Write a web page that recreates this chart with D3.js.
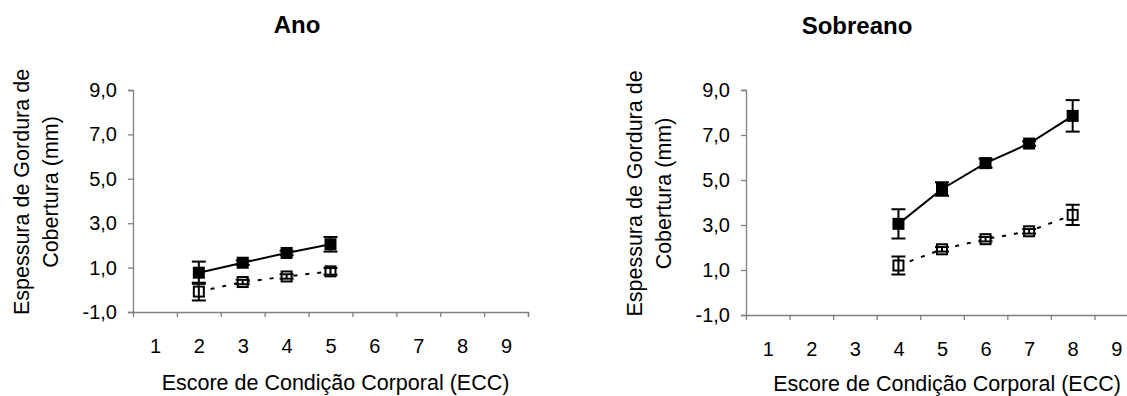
<!DOCTYPE html>
<html>
<head>
<meta charset="utf-8">
<script src="https://cdn.jsdelivr.net/npm/d3@7"></script>
<style>
  body { margin: 0; background: #fff; }
  svg { display: block; font-family: "Liberation Sans", Arial, sans-serif; }
</style>
</head>
<body>
<svg id="c" width="1127" height="396"></svg>
<script>
// categories on the x axis (ECC)
const categories = [1, 2, 3, 4, 5, 6, 7, 8, 9];
const yTicks = [-1, 1, 3, 5, 7, 9];

// Ano
const anoX = [2, 3, 4, 5];
const anoFilled = [0.77, 1.22, 1.66, 2.05];
const anoFilledErr = [0.5, 0.1, 0.1, 0.33];
const anoOpen = [-0.08, 0.35, 0.6, 0.83];
const anoOpenErr = [0.4, 0.1, 0.1, 0.15];

// Sobreano
const sobX = [4, 5, 6, 7, 8];
const sobFilled = [3.05, 4.6, 5.75, 6.62, 7.85];
const sobFilledErr = [0.65, 0.3, 0.2, 0.1, 0.7];
const sobOpen = [1.2, 1.92, 2.37, 2.72, 3.45];
const sobOpenErr = [0.4, 0.1, 0.1, 0.1, 0.45];

const svg = d3.select('#c');

drawPanel({
  title: 'Ano', titleX: 297, titleY: 33,
  left: 133, right: 528, top: 90, bottom: 312,
  xTitleY: 390,
  xs: anoX, filled: anoFilled, filledErr: anoFilledErr, open: anoOpen, openErr: anoOpenErr
});

drawPanel({
  title: 'Sobreano', titleX: 857, titleY: 34,
  left: 746, right: 1138, top: 90, bottom: 315,
  xTitleY: 391,
  xs: sobX, filled: sobFilled, filledErr: sobFilledErr, open: sobOpen, openErr: sobOpenErr
});

function drawPanel(p) {
  const g = svg.append('g');

  const x = d3.scaleLinear().domain([0.5, 9.5]).range([p.left, p.right]);
  const y = d3.scaleLinear().domain([-1, 9]).range([p.bottom, p.top]);

  // title
  g.append('text')
    .attr('x', p.titleX).attr('y', p.titleY)
    .attr('text-anchor', 'middle')
    .style('font-size', '24px').style('font-weight', 'bold')
    .text(p.title);

  // y axis
  const yAxis = g.append('g')
    .attr('transform', `translate(${p.left},0)`)
    .call(d3.axisLeft(y).tickValues(yTicks).tickSize(5).tickPadding(11)
      .tickFormat(d => d.toFixed(1).replace('.', ',')));
  yAxis.selectAll('text').style('font-size', '20px').attr('fill', '#000');

  // x axis: boundary ticks
  g.append('g')
    .attr('transform', `translate(0,${p.bottom})`)
    .call(d3.axisBottom(x).tickValues(categories.map(d => d + 0.5)).tickSize(5).tickFormat(''));

  // x axis: labels centred in categories
  const xLab = g.append('g')
    .attr('transform', `translate(0,${p.bottom})`)
    .call(d3.axisBottom(x).tickValues(categories).tickSize(0).tickPadding(27));
  xLab.select('.domain').remove();
  xLab.selectAll('text').style('font-size', '20px').attr('fill', '#000');

  g.selectAll('.domain, .tick line').attr('stroke', '#808080').attr('stroke-width', 1.3);

  // axis titles
  g.append('text')
    .attr('x', (p.left + p.right) / 2 + 5).attr('y', p.xTitleY)
    .attr('text-anchor', 'middle')
    .style('font-size', '21.5px')
    .text('Escore de Condição Corporal (ECC)');

  const cy = (p.top + p.bottom) / 2 - 9;
  const yt = g.append('text')
    .attr('transform', `translate(${p.left - 104},${cy}) rotate(-90)`)
    .attr('text-anchor', 'middle')
    .style('font-size', '21.5px');
  yt.append('tspan').attr('x', 0).attr('dy', 0).text('Espessura de Gordura de');
  yt.append('tspan').attr('x', 0).attr('dy', 29).text('Cobertura (mm)');

  const filledPts = p.xs.map((d, i) => ({ x: d, v: p.filled[i], e: p.filledErr[i] }));
  const openPts = p.xs.map((d, i) => ({ x: d, v: p.open[i], e: p.openErr[i] }));

  const line = d3.line().x(d => x(d.x)).y(d => y(d.v));

  g.append('path').datum(filledPts)
    .attr('d', line).attr('fill', 'none')
    .attr('stroke', '#000').attr('stroke-width', 2);

  g.append('path').datum(openPts)
    .attr('d', line).attr('fill', 'none')
    .attr('stroke', '#000').attr('stroke-width', 2)
    .attr('stroke-dasharray', '4,8');

  // markers
  g.selectAll('.mf').data(filledPts).join('rect')
    .attr('x', d => x(d.x) - 6).attr('y', d => y(d.v) - 6)
    .attr('width', 12).attr('height', 12)
    .attr('fill', '#000');

  g.selectAll('.mo').data(openPts).join('rect')
    .attr('x', d => x(d.x) - 5).attr('y', d => y(d.v) - 5)
    .attr('width', 10).attr('height', 10)
    .attr('fill', '#fff').attr('stroke', '#000').attr('stroke-width', 2);

  // error bars
  const errs = filledPts.concat(openPts);
  const eb = g.append('g').attr('stroke', '#000').attr('stroke-width', 2);
  eb.selectAll('.v').data(errs).join('line')
    .attr('x1', d => x(d.x)).attr('x2', d => x(d.x))
    .attr('y1', d => y(d.v - d.e)).attr('y2', d => y(d.v + d.e));
  eb.selectAll('.t').data(errs).join('line')
    .attr('x1', d => x(d.x) - 7).attr('x2', d => x(d.x) + 7)
    .attr('y1', d => y(d.v + d.e)).attr('y2', d => y(d.v + d.e));
  eb.selectAll('.b').data(errs).join('line')
    .attr('x1', d => x(d.x) - 7).attr('x2', d => x(d.x) + 7)
    .attr('y1', d => y(d.v - d.e)).attr('y2', d => y(d.v - d.e));
}
</script>
</body>
</html>
